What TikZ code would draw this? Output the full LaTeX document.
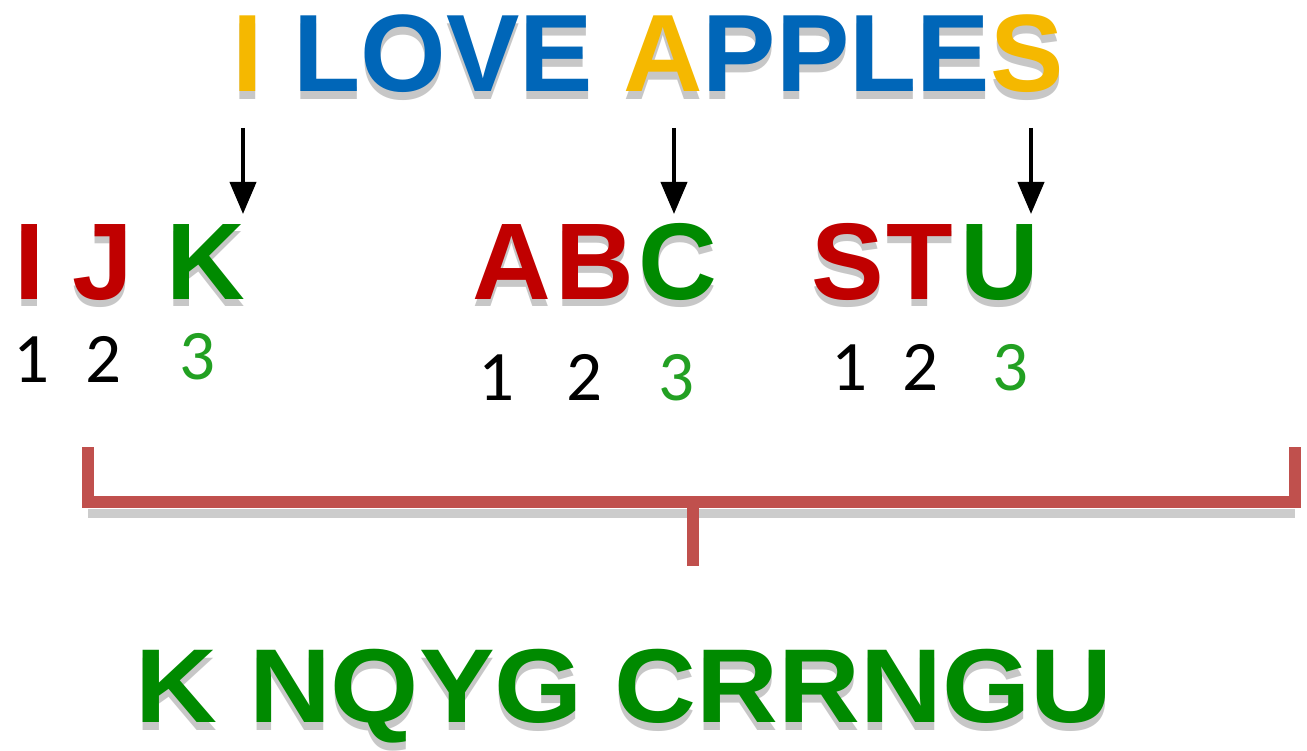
\documentclass[tikz,border=0pt]{standalone}
\usepackage{fontspec}
\setmainfont{Liberation Sans}
\newfontfamily\numfont{Carlito}
\usetikzlibrary{arrows.meta}
\definecolor{tblue}{HTML}{0066B8}
\definecolor{tyellow}{HTML}{F5B800}
\definecolor{tred}{HTML}{C00000}
\definecolor{tgreen}{HTML}{008A00}
\definecolor{ngreen}{HTML}{22A022}
\definecolor{bred}{HTML}{C0504D}
\definecolor{shade}{HTML}{9A9A9A}
\newcommand\ct[2]{\textcolor{#1}{#2}}
\newcommand\plainct[2]{#2}
% name, position, style, content, shadow offset
\newcommand\shtext[5]{%
  \node[#3, text=shade, opacity=0.55, yshift=-#5] (#1s) at (#2) {\let\ct\plainct #4};
  \node[#3] (#1) at (#2) {#4};}
\begin{document}
\begin{tikzpicture}[x=1pt,y=-1pt,
  title/.style={font=\fontsize{110}{110}\selectfont\bfseries, inner sep=0pt, anchor=base},
  letter/.style={font=\fontsize{109}{109}\selectfont\bfseries, inner sep=0pt, anchor=base},
  digit/.style={font=\fontsize{71}{71}\selectfont\numfont, inner sep=0pt, anchor=base},
  answer/.style={font=\fontsize{105}{105}\selectfont\bfseries, inner sep=0pt, anchor=base, text=tgreen},
  pointer/.style={draw=black, line width=4pt, -{Triangle[length=32pt,width=26pt]}},
  bracket/.style={draw=bred, line width=12pt},
  bshadow/.style={draw=shade, opacity=0.5, line width=9pt}]
\useasboundingbox[fill=white] (0,0) rectangle (1307,751);

% title
\shtext{title}{648,92}{title}{\ct{tyellow}{I} \ct{tblue}{LOVE} \ct{tyellow}{A}\ct{tblue}{PPLE}\ct{tyellow}{S}}{8pt}

% letter row
\shtext{l1}{30,300}{letter,text=tred}{I}{7pt}
\shtext{l2}{103,300}{letter,text=tred}{J}{7pt}
\shtext{l3}{206,300}{letter,text=tgreen}{K}{7pt}
\shtext{l4}{512,300}{letter,text=tred}{A}{7pt}
\shtext{l5}{595,300}{letter,text=tred}{B}{7pt}
\shtext{l6}{678,300}{letter,text=tgreen}{C}{7pt}
\shtext{l7}{848,300}{letter,text=tred}{S}{7pt}
\shtext{l8}{920,300}{letter,text=tred}{T}{7pt}
\shtext{l9}{1000,300}{letter,text=tgreen}{U}{7pt}

% digits
\node[digit,text=black] (n1) at (31,382) {1};
\node[digit,text=black] (n2) at (103,382) {2};
\node[digit,text=ngreen] (n3) at (197,380) {3};
\node[digit,text=black] (n4) at (496,400) {1};
\node[digit,text=black] (n5) at (584,400) {2};
\node[digit,text=ngreen] (n6) at (676,400) {3};
\node[digit,text=black] (n7) at (849,390) {1};
\node[digit,text=black] (n8) at (920,390) {2};
\node[digit,text=ngreen] (n9) at (1010,390) {3};

% arrows
\coordinate (a1s) at (243,128);
\coordinate (a1e) at (243,214);
\coordinate (a2s) at (674,128);
\coordinate (a2e) at (674,214);
\coordinate (a3s) at (1031,128);
\coordinate (a3e) at (1031,214);
\draw[pointer] (a1s) -- (a1e);
\draw[pointer] (a2s) -- (a2e);
\draw[pointer] (a3s) -- (a3e);

% bracket
\coordinate (bl) at (88,447);
\coordinate (blc) at (88,502);
\coordinate (brc) at (1295,502);
\coordinate (br) at (1295,447);
\coordinate (bm) at (693,502);
\coordinate (bt) at (693,566);
\draw[bshadow] ([yshift=-11pt]blc) -- ([yshift=-11pt]brc);
\draw[bracket, line join=miter] (bl) -- (blc) -- (brc) -- (br);
\draw[bracket] (bm) -- (bt);

% answer
\shtext{ans}{624,722}{answer}{\scalebox{1.08}[1]{K NQYG CRRNGU}}{8pt}
\end{tikzpicture}
\end{document}
